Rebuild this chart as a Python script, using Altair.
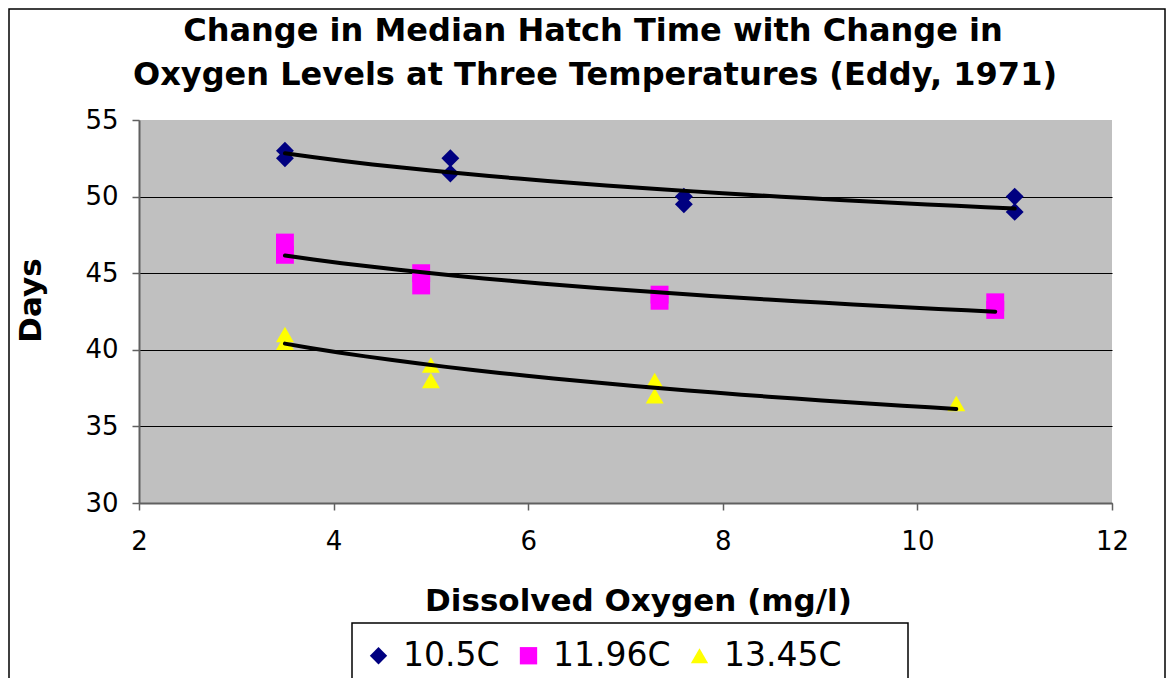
import altair as alt
import pandas as pd

# ---- data ----
series_names = ["10.5C", "11.96C", "13.45C"]

do_105 = [3.5, 3.5, 5.2, 5.2, 7.6, 7.6, 11.0, 11.0]
days_105 = [53.0, 52.5, 52.5, 51.5, 50.0, 49.5, 50.0, 49.0]

do_1196 = [3.5, 3.5, 4.9, 4.9, 7.35, 7.35, 10.8, 10.8]
days_1196 = [47.0, 46.2, 45.0, 44.2, 43.6, 43.2, 43.1, 42.6]

do_1345 = [3.5, 3.5, 5.0, 5.0, 7.3, 7.3, 10.4]
days_1345 = [41.0, 40.5, 39.0, 38.0, 38.0, 37.0, 36.5]

x_ticks = [2, 4, 6, 8, 10, 12]
y_ticks = [30, 35, 40, 45, 50, 55]

title_lines = ["Change in Median Hatch Time with Change in",
               "Oxygen Levels at Three Temperatures (Eddy, 1971)"]

colors = ["#000080", "#FF00FF", "#FFFF00"]
shapes = ["diamond", "square", "triangle-up"]

rows = []
for name, xs, ys in zip(series_names, [do_105, do_1196, do_1345], [days_105, days_1196, days_1345]):
    for x, y in zip(xs, ys):
        rows.append({"series": name, "do": x, "days": y})
df = pd.DataFrame(rows)

FONT = "DejaVu Sans"

xenc = alt.X("do:Q", scale=alt.Scale(domain=[2, 12], nice=False),
             axis=alt.Axis(values=x_ticks, format="d", title="Dissolved Oxygen (mg/l)", grid=False,
                           titleX=499, titleY=107, titleBaseline="alphabetic", titleAlign="center"))
yenc = alt.Y("days:Q", scale=alt.Scale(domain=[30, 55], nice=False),
             axis=alt.Axis(values=y_ticks, format="d", title="Days",
                           titleX=-108, titleY=180, titleAngle=-90,
                           titleAlign="center", titleBaseline="middle",
                           gridOpacity={"condition": {"test": "datum.value == 55", "value": 0}, "value": 1}))

base = alt.Chart(df)

points = base.mark_point(filled=True, opacity=1, size=320).encode(
    x=xenc,
    y=yenc,
    color=alt.Color("series:N", scale=alt.Scale(domain=series_names, range=colors),
                    legend=alt.Legend(title=None)),
    shape=alt.Shape("series:N", scale=alt.Scale(domain=series_names, range=shapes),
                    legend=alt.Legend(title=None)),
)

trend = base.transform_regression(
    "do", "days", method="log", groupby=["series"]
).mark_line(color="black", strokeWidth=4, strokeCap="round").encode(
    x="do:Q", y="days:Q", detail="series:N"
)

one = pd.DataFrame({"a": [0]})

border = alt.Chart(one).mark_rect(
    fillOpacity=0, stroke="#000000", strokeWidth=1.5
).encode(
    x=alt.value(-130), x2=alt.value(1026), y=alt.value(-111), y2=alt.value(700)
)

legend_box = alt.Chart(one).mark_rect(
    fill="white", stroke="#000000", strokeWidth=1.5
).encode(
    x=alt.value(213), x2=alt.value(769), y=alt.value(503), y2=alt.value(620)
)

title1 = alt.Chart(one).mark_text(
    font=FONT, fontSize=32, fontWeight="bold", color="black",
    align="center", baseline="alphabetic"
).encode(x=alt.value(454), y=alt.value(-79), text=alt.value(title_lines[0]))

title2 = alt.Chart(one).mark_text(
    font=FONT, fontSize=32, fontWeight="bold", color="black",
    align="center", baseline="alphabetic"
).encode(x=alt.value(456), y=alt.value(-35), text=alt.value(title_lines[1]))

chart = alt.layer(legend_box, points, trend, border, title1, title2).properties(
    width=973,
    height=383,
    autosize=alt.AutoSizeParams(type="none"),
    padding={"left": 131, "top": 112, "right": 55, "bottom": 175},
).configure_view(
    fill="#C0C0C0", stroke=None
).configure_axis(
    labelFont=FONT, labelFontSize=26, labelColor="black", labelFlush=False,
    titleFont=FONT, titleFontSize=31, titleFontWeight="bold", titleColor="black",
    domainColor="#606060", domainWidth=2, tickColor="#606060", tickWidth=1.5, tickSize=7,
    gridColor="#000000", gridWidth=1,
).configure_axisX(
    labelPadding=18,
).configure_axisY(
    labelPadding=14,
).configure_legend(
    orient="none", legendX=223, legendY=519, direction="horizontal",
    padding=0,
    labelFont=FONT, labelFontSize=33, labelColor="black",
    symbolSize=300, symbolOpacity=1, labelOffset=8, columnPadding=12,
)

chart.save("out.html", embed_options={"renderer": "svg", "actions": False})
